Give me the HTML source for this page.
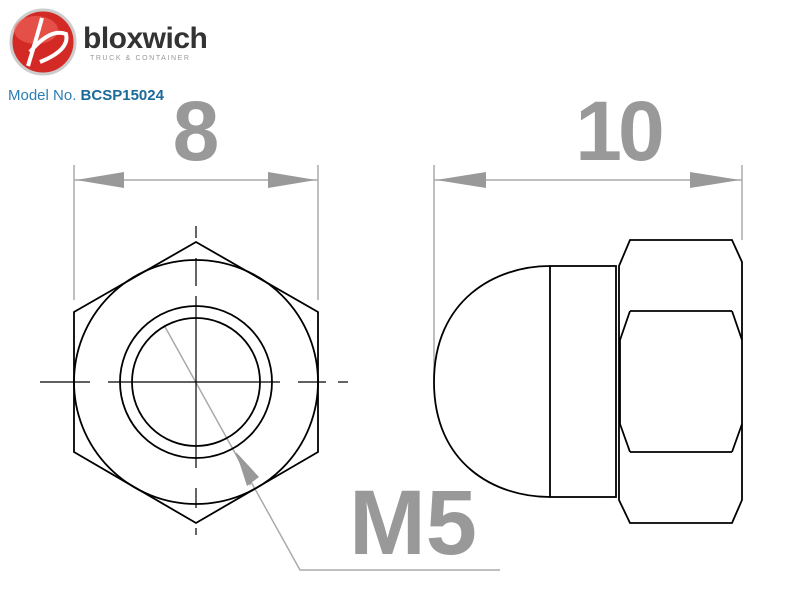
<!DOCTYPE html>
<html><head><style>
body{margin:0;background:#fff;width:800px;height:590px;overflow:hidden;font-family:"Liberation Sans",sans-serif}
</style></head><body>
<svg width="800" height="590" viewBox="0 0 800 590" xmlns="http://www.w3.org/2000/svg">
<!-- logo -->
<circle cx="43" cy="42" r="32" fill="#d42a25" stroke="#ccc" stroke-width="3"/>
<ellipse cx="36" cy="30" rx="22" ry="14" fill="#ee6a60" opacity="0.6"/>
<path d="M42 18 Q36 40 28 66 M30 52 Q50 28 66 34 Q70 50 40 62" stroke="#fff" stroke-width="4" fill="none"/>
<text x="83" y="48" font-size="30" font-weight="bold" fill="#333" letter-spacing="-0.5">bloxwich</text>
<text x="90" y="60" font-size="7" fill="#999" letter-spacing="1.6">TRUCK &amp; CONTAINER</text>
<text x="8" y="100" font-size="15" fill="#2a7fb5">Model No. <tspan font-weight="bold" fill="#1a6a9a">BCSP15024</tspan></text>
<!-- dims -->
<g fill="#999" font-weight="bold" text-anchor="middle">
<text x="196" y="160" font-size="84">8</text>
<text x="618" y="160" font-size="84" letter-spacing="-4">10</text>
<text x="413" y="554" font-size="92">M5</text>
</g>
<g stroke="#aaa" stroke-width="1.5" fill="none">
<line x1="74" y1="165" x2="74" y2="300"/><line x1="318" y1="165" x2="318" y2="300"/>
<line x1="74" y1="180" x2="318" y2="180"/>
<line x1="434" y1="165" x2="434" y2="380"/><line x1="742" y1="165" x2="742" y2="240"/>
<line x1="434" y1="180" x2="742" y2="180"/>
<polyline points="164,325 300,570 500,570"/>
</g>
<g fill="#999">
<polygon points="76,180 124,172 124,188"/><polygon points="316,180 268,172 268,188"/>
<polygon points="436,180 486,172 486,188"/><polygon points="740,180 690,172 690,188"/>
<polygon points="234,451 254,476 250,486"/>
<polygon points="236,452 259,477 247,486"/>
</g>
<!-- front view -->
<g stroke="#000" stroke-width="1.8" fill="none">
<polygon points="196,242 318,312 318,452 196,523 74,452 74,312"/>
<circle cx="196" cy="382" r="122"/>
<circle cx="196" cy="382" r="76"/>
<circle cx="196" cy="382" r="64"/>
</g>
<g stroke="#000" stroke-width="1.2">
<line x1="196" y1="226" x2="196" y2="238" /><line x1="196" y1="258" x2="196" y2="286"/>
<line x1="196" y1="296" x2="196" y2="468"/>
<line x1="196" y1="488" x2="196" y2="508"/><line x1="196" y1="528" x2="196" y2="535"/>
<line x1="40" y1="382" x2="90" y2="382"/><line x1="108" y1="382" x2="280" y2="382"/>
<line x1="298" y1="382" x2="326" y2="382"/><line x1="338" y1="382" x2="348" y2="382"/>
</g>
<!-- side view -->
<g stroke="#000" stroke-width="1.8" fill="none">
<path d="M550,266 C495,266 434,300 434,382 C434,464 495,497 550,497"/>
<rect x="550" y="266" width="66" height="231"/>
<path d="M619,266 L630,240 L732,240 L742,262 L742,500 L732,523 L630,523 L619,500 Z"/>
<line x1="630" y1="311" x2="732" y2="311"/>
<line x1="630" y1="452" x2="732" y2="452"/>
<path d="M630,311 L620,340 L620,424 L630,452"/>
<path d="M732,311 L742,340 M732,452 L742,424"/>
</g>
</svg>
</body></html>
